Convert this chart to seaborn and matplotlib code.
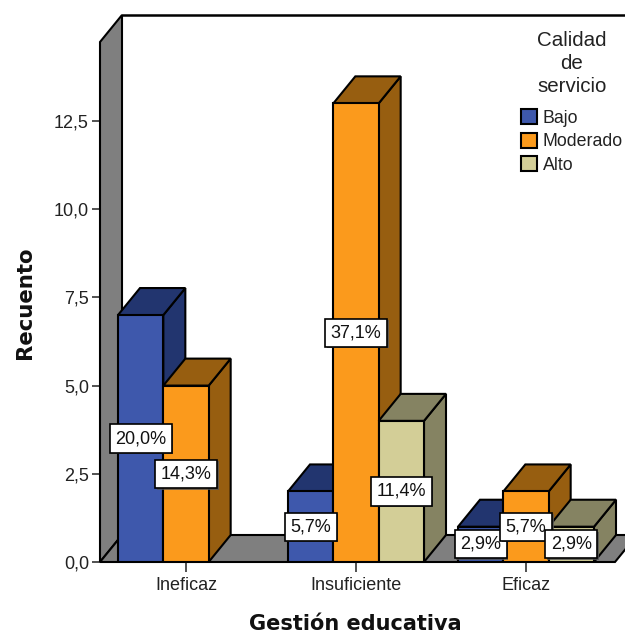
import numpy as np
import pandas as pd
import matplotlib
matplotlib.use("Agg")
import matplotlib.pyplot as plt
import matplotlib.patheffects as pe
from matplotlib.patches import Polygon, Patch
import seaborn as sns

categories = ["Ineficaz", "Insuficiente", "Eficaz"]
series = ["Bajo", "Moderado", "Alto"]
bajo = [7, 2, 1]
moderado = [5, 13, 2]
alto = [np.nan, 4, 1]
pct_bajo = ["20,0%", "5,7%", "2,9%"]
pct_moderado = ["14,3%", "37,1%", "5,7%"]
pct_alto = ["", "11,4%", "2,9%"]
y_ticks = [0, 2.5, 5, 7.5, 10, 12.5]
y_tick_labels = ["0,0", "2,5", "5,0", "7,5", "10,0", "12,5"]

front_colors = ["#3E58AC", "#FB9A1C", "#D3CE97"]
side_colors = ["#22356F", "#975E10", "#858362"]
wall_color = "#7F7F7F"

W, H = 625, 635
left_px, right_px, bottom_px, top_px = 100, 625, 562, 15
px_per_unit_y = 35.28
px_per_cat = 170.0
x0_px = 186.0
depth_x = 22 / px_per_cat
depth_y = 27 / px_per_unit_y

sns.set_theme(style="white")
plt.rcParams["font.family"] = ["Liberation Sans", "DejaVu Sans"]

df = pd.DataFrame({
    "cat": np.tile(categories, 3),
    "serie": np.repeat(series, 3),
    "val": bajo + moderado + alto,
})

fig = plt.figure(figsize=(W / 100, H / 100), dpi=100, facecolor="white")
ax = fig.add_axes([left_px / W, 1 - bottom_px / H, (right_px - left_px) / W, (bottom_px - top_px) / H])

sns.barplot(data=df, x="cat", y="val", hue="serie", order=categories, hue_order=series,
            palette=front_colors, saturation=1, width=0.8, gap=0, edgecolor="black",
            linewidth=1.5, legend=False, errorbar=None, ax=ax)

xmin = (left_px - x0_px) / px_per_cat
xmax = (right_px - x0_px) / px_per_cat
ymax = (bottom_px - top_px) / px_per_unit_y
ax.set_xlim(xmin, xmax)
ax.set_ylim(0, ymax)
for s in ax.spines.values():
    s.set_visible(False)

# walls
floor_end = (615 - x0_px) / px_per_cat
line_kw = dict(edgecolor="black", linewidth=1.5, clip_on=False)
ax.add_patch(Polygon([(xmin, 0), (xmin + depth_x, depth_y), (xmin + depth_x, ymax), (xmin, ymax - depth_y)],
                     facecolor=wall_color, zorder=1, **line_kw))
ax.add_patch(Polygon([(xmin, 0), (floor_end, 0), (floor_end + depth_x, depth_y), (xmin + depth_x, depth_y)],
                     facecolor=wall_color, zorder=1, **line_kw))
ax.plot([xmin + depth_x, floor_end + depth_x], [ymax, ymax], color="black", lw=1.8, zorder=1, clip_on=False)

# 3D faces derived from the bars seaborn drew
pct_all = [pct_bajo, pct_moderado, pct_alto]
items = []
for si, cont in enumerate(ax.containers):
    for bar in cont.patches:
        if np.isfinite(bar.get_height()) and bar.get_height() > 0:
            items.append((bar.get_x(), si, bar))
items.sort(key=lambda t: t[0])
z = 3
for _, si, bar in items:
    x, w, h = bar.get_x(), bar.get_width(), bar.get_height()
    ci = int(round(x + w / 2))
    ax.add_patch(Polygon([(x + w, 0), (x + w + depth_x, depth_y), (x + w + depth_x, h + depth_y), (x + w, h)],
                         facecolor=side_colors[si], edgecolor="black", linewidth=1.5, zorder=z))
    ax.add_patch(Polygon([(x, h), (x + depth_x, h + depth_y), (x + w + depth_x, h + depth_y), (x + w, h)],
                         facecolor=side_colors[si], edgecolor="black", linewidth=1.5, zorder=z))
    bar.set_zorder(z + 0.5)
    z += 1
    t = ax.text(x + w / 2, h / 2, pct_all[si][ci], ha="center", va="center", fontsize=13, color="#111111",
                zorder=50, bbox=dict(boxstyle="square,pad=0.31", facecolor="white", edgecolor="black", linewidth=1.2))
    t.get_bbox_patch().set_path_effects([pe.withSimplePatchShadow(offset=(1.2, -1.2), shadow_rgbFace="#555555", alpha=0.8)])

ax.set_yticks(y_ticks)
ax.set_yticklabels(y_tick_labels)
ax.tick_params(axis="y", left=True, length=6, width=1.1, color="#222222", labelsize=13, labelcolor="#222222", pad=2)
ax.tick_params(axis="x", bottom=True, length=7.5, width=1.1, color="#222222", labelsize=13, labelcolor="#222222", pad=3)

ax.set_xlabel("Gestión educativa", fontsize=15, fontweight="bold", family="DejaVu Sans", color="#111111", va="center")
ax.xaxis.set_label_coords((355 - left_px) / (right_px - left_px), (bottom_px - 624) / (bottom_px - top_px))
ax.set_ylabel("Recuento", fontsize=15.3, fontweight="bold", family="DejaVu Sans", color="#111111", va="center")
ax.yaxis.set_label_coords((25 - left_px) / (right_px - left_px), (bottom_px - 303) / (bottom_px - top_px))

handles = [Patch(facecolor=c, edgecolor="black", linewidth=1.5, label=s) for c, s in zip(front_colors, series)]
leg = ax.legend(handles=handles, title="Calidad\nde\nservicio", loc="upper left",
                bbox_to_anchor=(521 / W, 1 - 31 / H), bbox_transform=fig.transFigure,
                frameon=False, fontsize=12.8, title_fontsize=14.8, borderpad=0, borderaxespad=0,
                handlelength=0.9, handleheight=0.9, handletextpad=0.33, labelspacing=0.34)
leg.set_zorder(60)
leg._legend_box.align = "center"
leg._legend_box.sep = 10
leg.get_title().set_multialignment("center")
leg.get_title().set_linespacing(1.25)
leg.get_title().set_color("#222222")
for t in leg.get_texts():
    t.set_color("#222222")

fig.savefig("out.png", dpi=100)
